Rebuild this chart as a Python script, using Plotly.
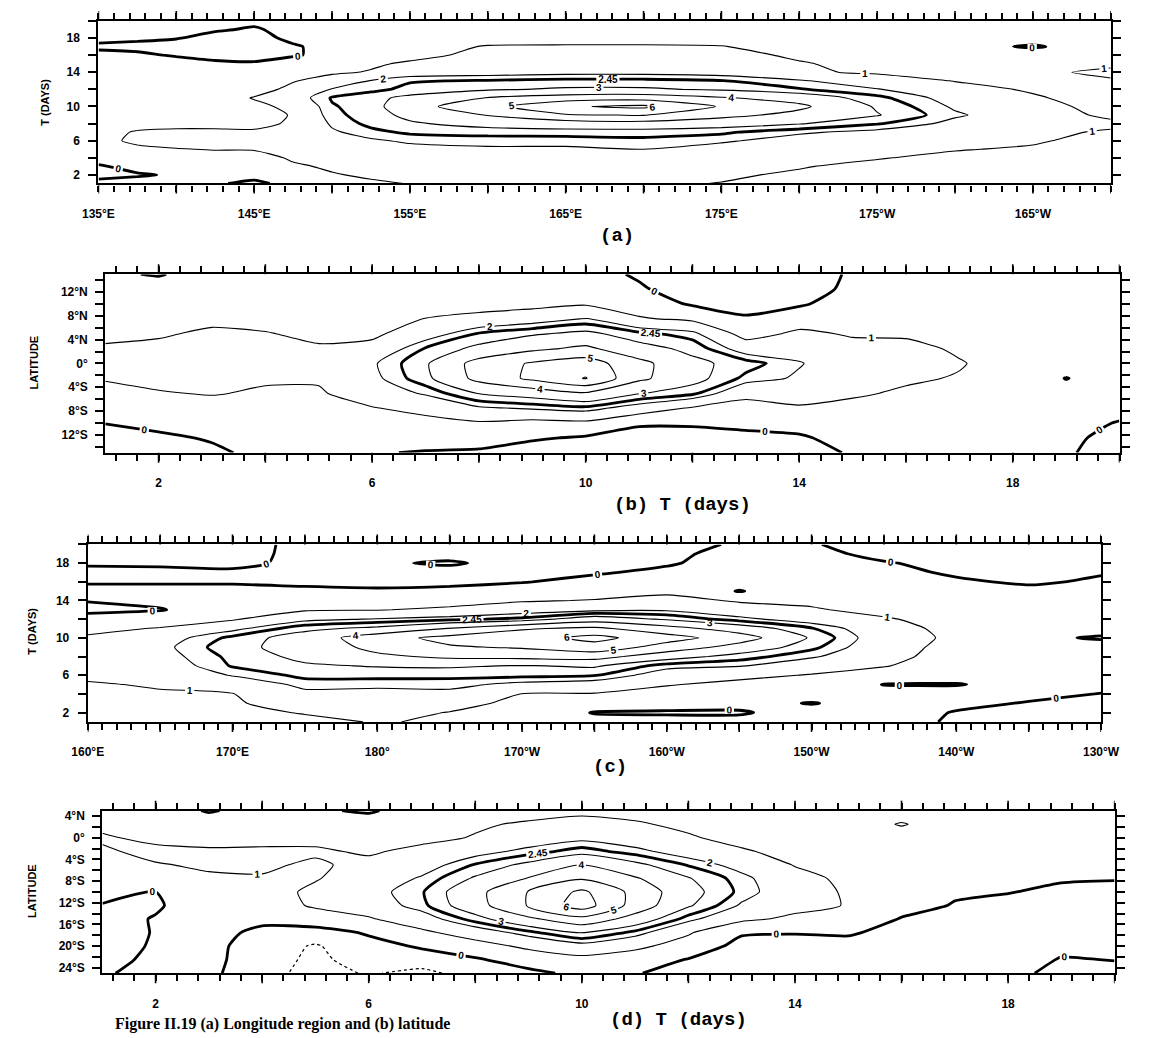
import plotly.graph_objects as go

W, H = 1155, 1038

# ---------------- (a) T (days) against longitude ----------------
LON_A = [135, 137.5, 140, 142.5, 145, 147.5, 150, 152.5, 155, 160, 165, 170, 175, 180, 185, 190, 195, 200]
T_A = list(range(1, 21))
# one row per period T = 1 .. 20 days
Z_A = [
    [0.3, 0.4, 0.3, 0.1, -0.2, 0.3, 0.8, 0.9, 1.02, 1.1, 1.15, 1.1, 0.98, 0.8, 0.6, 0.5, 0.5, 0.4],
    [-0.3, -0.1, 0.1, 0.3, 0.3, 0.6, 0.95, 1.1, 1.2, 1.25, 1.3, 1.3, 1.1, 0.9, 0.7, 0.5, 0.5, 0.4],
    [-0.1, 0.3, 0.4, 0.5, 0.6, 0.9, 1.1, 1.2, 1.3, 1.4, 1.4, 1.4, 1.2, 1.05, 0.8, 0.6, 0.5, 0.4],
    [0.4, 0.5, 0.6, 0.6, 0.7, 1.1, 1.3, 1.4, 1.5, 1.6, 1.6, 1.6, 1.4, 1.2, 1.05, 0.8, 0.7, 0.5],
    [0.5, 0.8, 0.95, 1.05, 1.05, 1.2, 1.5, 1.6, 1.8, 1.9, 1.9, 2.0, 1.7, 1.4, 1.2, 1.05, 0.9, 0.6],
    [0.7, 1.2, 1.4, 1.5, 1.5, 1.5, 1.7, 1.9, 2.1, 2.2, 2.2, 2.3, 2.1, 1.7, 1.5, 1.2, 1.1, 0.7],
    [0.6, 1.1, 1.2, 1.2, 1.1, 1.2, 1.9, 2.3, 2.55, 2.65, 2.7, 2.7, 2.55, 2.1, 1.8, 1.4, 1.2, 0.9],
    [0.5, 0.6, 0.7, 0.7, 0.8, 1.1, 2.1, 2.6, 2.9, 3.3, 3.5, 3.6, 3.4, 3.05, 2.5, 1.8, 1.4, 1.2],
    [0.5, 0.5, 0.6, 0.6, 0.7, 1.05, 2.3, 2.7, 3.2, 4.05, 4.9, 5.05, 4.3, 3.7, 3.05, 2.1, 1.5, 0.8],
    [0.4, 0.5, 0.5, 0.6, 0.8, 1.2, 2.4, 2.7, 3.6, 4.7, 5.9, 6.2, 4.9, 4.2, 2.9, 1.9, 1.3, 0.7],
    [0.4, 0.4, 0.5, 0.6, 1.05, 1.6, 2.5, 2.8, 3.2, 4.05, 4.5, 4.6, 4.1, 3.6, 2.6, 1.7, 1.1, 0.6],
    [0.4, 0.4, 0.5, 0.5, 0.7, 1.2, 2.05, 2.3, 2.6, 2.9, 3.1, 3.1, 2.9, 2.5, 2.05, 1.3, 0.9, 0.5],
    [0.4, 0.4, 0.4, 0.5, 0.6, 0.95, 1.3, 2.05, 2.4, 2.5, 2.6, 2.6, 2.47, 2.1, 1.4, 0.97, 0.8, 0.9],
    [0.5, 0.5, 0.5, 0.4, 0.4, 0.7, 0.9, 1.05, 1.6, 1.7, 1.8, 1.8, 1.7, 1.1, 0.9, 0.8, 0.8, 1.2],
    [0.4, 0.4, 0.5, 0.3, 0.2, 0.5, 0.7, 0.9, 1.1, 1.4, 1.5, 1.5, 1.4, 1.05, 0.8, 0.7, 0.7, 0.8],
    [0.3, 0.2, -0.1, -0.5, -0.6, -0.1, 0.3, 0.6, 0.8, 1.2, 1.3, 1.3, 1.2, 0.9, 0.7, 0.5, 0.6, 0.7],
    [-0.2, -0.3, -0.4, -0.5, -0.4, -0.1, 0.3, 0.5, 0.7, 1.05, 1.08, 1.08, 1.03, 0.7, 0.5, 0.3, -0.1, 0.5],
    [0.3, 0.2, 0.05, -0.3, -0.3, 0.2, 0.4, 0.5, 0.6, 0.7, 0.7, 0.7, 0.7, 0.6, 0.5, 0.4, 0.4, 0.5],
    [0.4, 0.4, 0.3, 0.1, -0.1, 0.3, 0.5, 0.5, 0.5, 0.5, 0.5, 0.5, 0.5, 0.5, 0.5, 0.5, 0.5, 0.5],
    [0.5, 0.5, 0.4, 0.3, 0.2, 0.4, 0.5, 0.5, 0.5, 0.5, 0.5, 0.5, 0.5, 0.5, 0.5, 0.5, 0.5, 0.5],
]

# ---------------- (b) latitude against T (days) ----------------
T_B = list(range(1, 21))
LAT_B = [-15, -12.5, -10, -7.5, -5, -2.5, 0, 2.5, 5, 7.5, 10, 12.5, 15]
# one list per period T (south -> north)
Z_B = [
    [-0.5, -0.3, 0.02, 0.5, 0.8, 1.05, 1.2, 1.1, 0.8, 0.5, 0.3, 0.2, 0.1],
    [-0.4, -0.2, 0.3, 0.7, 0.95, 1.2, 1.3, 1.2, 0.9, 0.6, 0.4, 0.3, -0.05],
    [-0.2, 0.1, 0.4, 0.7, 1.05, 1.2, 1.3, 1.3, 1.15, 0.8, 0.5, 0.4, 0.3],
    [0.3, 0.4, 0.5, 0.7, 0.9, 1.1, 1.2, 1.2, 1.05, 0.7, 0.5, 0.4, 0.3],
    [0.4, 0.5, 0.6, 0.7, 0.9, 1.1, 1.2, 1.1, 0.8, 0.6, 0.5, 0.5, 0.4],
    [0.05, 0.4, 0.7, 0.95, 1.5, 1.8, 1.9, 1.3, 0.8, 0.7, 0.5, 0.5, 0.4],
    [-0.05, 0.3, 0.7, 1.3, 2.1, 2.8, 2.9, 2.5, 1.6, 1.02, 0.6, 0.5, 0.4],
    [-0.1, 0.3, 0.9, 1.9, 3.05, 4.3, 4.4, 3.2, 2.5, 1.3, 0.6, 0.5, 0.4],
    [-0.4, 0.1, 0.7, 2.1, 3.4, 5.2, 5.1, 3.8, 2.9, 1.6, 0.7, 0.5, 0.4],
    [-0.6, -0.1, 0.8, 2.3, 3.9, 6.05, 5.5, 4.2, 3.2, 2.05, 0.9, 0.5, 0.3],
    [-0.8, -0.3, 0.1, 1.6, 3.05, 4.2, 4.3, 3.3, 2.6, 1.1, 0.5, 0.1, -0.1],
    [-0.6, -0.3, 0.1, 0.9, 2.6, 3.3, 3.2, 2.8, 2.2, 0.8, -0.1, -0.4, -0.5],
    [-0.5, -0.2, 0.2, 0.6, 1.3, 2.3, 2.7, 1.6, 0.6, 0.1, -0.3, -0.5, -0.5],
    [-0.4, -0.1, 0.3, 0.9, 1.4, 1.9, 2.05, 1.7, 1.2, 0.5, -0.1, -0.4, -0.4],
    [0.1, 0.3, 0.5, 0.8, 1.1, 1.4, 1.5, 1.3, 0.9, 0.6, 0.4, 0.2, 0.1],
    [0.3, 0.4, 0.5, 0.6, 0.9, 1.1, 1.3, 1.2, 0.9, 0.6, 0.4, 0.3, 0.2],
    [0.3, 0.4, 0.5, 0.5, 0.7, 0.95, 1.05, 0.9, 0.7, 0.5, 0.4, 0.3, 0.3],
    [0.2, 0.3, 0.4, 0.5, 0.6, 0.7, 0.7, 0.6, 0.5, 0.4, 0.4, 0.3, 0.3],
    [0.1, 0.2, 0.3, 0.4, 0.4, -0.03, 0.5, 0.5, 0.4, 0.4, 0.3, 0.3, 0.3],
    [-0.4, -0.3, -0.05, 0.3, 0.4, 0.5, 0.5, 0.5, 0.4, 0.4, 0.3, 0.3, 0.3],
]

# ---------------- (c) T (days) against longitude, 160E - 130W ----------------
LON_C = [160, 165, 170, 175, 180, 185, 190, 195, 200, 205, 210, 215, 220, 225, 230]
T_C = list(range(1, 21))
# one list per longitude (T = 1 .. 20)
Z_C = [
    [0.5, 0.6, 0.6, 0.7, 0.9, 1.2, 1.3, 1.4, 1.3, 1.1, 0.8, 0.5, -0.3, 0.05, 0.3, -0.1, -0.4, 0.2, 0.3, 0.3],
    [0.6, 0.7, 0.8, 0.9, 1.1, 1.3, 1.5, 1.7, 1.8, 1.6, 1.05, 0.6, -0.05, 0.2, 0.3, -0.1, -0.3, 0.2, 0.3, 0.3],
    [0.7, 0.8, 0.9, 0.97, 1.4, 2.05, 2.5, 2.6, 2.8, 2.6, 1.8, 0.9, 0.5, 0.3, 0.3, -0.1, -0.2, 0.3, 0.4, 0.3],
    [0.8, 1.05, 1.4, 1.8, 2.2, 2.6, 2.9, 3.2, 3.3, 3.4, 2.8, 1.8, 0.9, 0.3, 0.2, -0.2, -0.4, -0.3, -0.3, -0.2],
    [1.05, 1.2, 1.4, 1.7, 2.2, 2.6, 3.05, 3.8, 4.3, 4.6, 3.2, 2.05, 0.95, 0.5, 0.1, -0.2, -0.3, -0.1, -0.3, -0.3],
    [0.9, 0.98, 1.2, 1.8, 2.2, 2.6, 3.1, 4.2, 4.9, 5.3, 4.05, 2.3, 1.2, 0.6, 0.1, -0.1, -0.3, 0.1, -0.3, -0.4],
    [0.6, 0.7, 0.85, 0.98, 1.8, 2.6, 2.95, 4.3, 5.1, 5.6, 4.9, 2.6, 1.6, 0.9, 0.5, -0.05, -0.2, -0.3, -0.3, -0.4],
    [0.3, -0.05, 0.6, 0.95, 1.6, 2.5, 3.1, 4.4, 5.6, 6.3, 5.2, 3.5, 1.8, 1.05, 0.6, 0.3, -0.1, -0.3, -0.3, -0.4],
    [0.3, -0.1, 0.4, 0.7, 1.05, 1.6, 2.2, 3.4, 4.6, 5.4, 4.4, 2.9, 1.9, 1.3, 0.8, 0.4, 0.2, -0.1, -0.2, -0.3],
    [0.3, -0.1, 0.3, 0.6, 0.8, 1.2, 2.05, 2.7, 3.6, 4.5, 3.5, 2.2, 1.4, 0.9, -0.05, 0.4, 0.4, 0.4, 0.3, 0.1],
    [0.4, 0.4, -0.05, 0.5, 0.8, 0.95, 1.4, 2.1, 2.6, 2.9, 2.5, 1.6, 1.1, 0.8, 0.6, 0.5, 0.4, 0.3, 0.2, 0.05],
    [0.3, 0.4, 0.4, 0.5, -0.03, 0.6, 1.05, 1.3, 1.4, 1.5, 1.4, 1.1, 0.7, 0.5, 0.4, 0.3, 0.2, 0.05, -0.2, -0.3],
    [-0.1, -0.05, 0.2, 0.4, -0.05, 0.4, 0.5, 0.6, 0.7, 0.8, 0.7, 0.6, 0.5, 0.4, 0.3, 0.1, -0.1, -0.2, -0.3, -0.3],
    [-0.3, -0.3, -0.05, 0.2, 0.3, 0.4, 0.4, 0.4, 0.3, 0.1, 0.3, 0.4, 0.4, 0.3, 0.2, -0.1, -0.2, -0.2, -0.2, -0.2],
    [-0.4, -0.3, -0.2, -0.02, 0.2, 0.3, 0.3, 0.3, 0.2, -0.05, 0.2, 0.3, 0.3, 0.3, 0.2, 0.1, -0.05, -0.2, -0.2, -0.1],
]

# ---------------- (d) latitude (25S - 5N) against T (days) ----------------
T_D = list(range(1, 21))
LAT_D = [-25, -22.5, -20, -17.5, -15, -12.5, -10, -7.5, -5, -2.5, 0, 2.5, 5]
# one list per period T (south -> north)
Z_D = [
    [-0.1, -0.3, -0.4, -0.4, -0.3, -0.05, 0.3, 0.6, 0.8, 0.9, 1.1, 0.8, 0.6],
    [0.3, 0.2, 0.1, 0.05, 0.05, -0.1, -0.02, 0.6, 0.95, 1.2, 0.8, 0.5, 0.3],
    [0.2, 0.3, 0.3, 0.3, 0.4, 0.5, 0.7, 0.9, 1.1, 1.15, 0.6, 0.3, -0.05],
    [-0.6, -0.6, -0.5, -0.2, 0.2, 0.6, 0.7, 0.95, 1.1, 1.15, 0.7, 0.4, 0.2],
    [-1.4, -1.2, -1.1, -0.4, 0.6, 1.1, 1.15, 0.95, 0.9, 1.1, 0.8, 0.3, 0.1],
    [-0.9, -0.6, -0.3, 0.1, 0.9, 1.5, 1.7, 1.4, 1.2, 0.9, 0.6, 0.4, -0.1],
    [-1.3, -0.4, 0.1, 0.8, 1.6, 2.3, 2.4, 2.1, 1.6, 1.2, 0.8, 0.6, 0.4],
    [-0.5, -0.1, 0.6, 1.5, 2.7, 3.6, 3.7, 3.1, 2.5, 1.7, 1.05, 0.9, 0.6],
    [-0.2, 0.4, 1.2, 2.3, 3.8, 5.1, 5.05, 4.05, 3.2, 2.2, 1.5, 1.1, 0.7],
    [0.2, 0.7, 1.7, 3.05, 4.7, 6.5, 6.2, 4.9, 4.05, 2.7, 1.8, 1.3, 0.8],
    [0.05, 0.5, 1.2, 2.3, 3.6, 4.6, 4.7, 4.1, 3.2, 2.2, 1.5, 1.1, 0.7],
    [-0.3, -0.05, 0.6, 1.1, 2.2, 3.1, 3.3, 3.05, 2.4, 1.6, 1.1, 0.8, 0.5],
    [-0.4, -0.2, -0.3, 0.1, 1.2, 1.9, 2.3, 2.2, 1.7, 1.1, 0.7, 0.5, 0.4],
    [-0.5, -0.5, -0.4, 0.05, 0.8, 1.3, 1.4, 1.3, 0.95, 0.7, 0.5, 0.4, 0.3],
    [-0.5, -0.5, -0.3, 0.1, 0.6, 0.95, 0.9, 0.8, 0.6, 0.5, 0.4, 0.3, 0.3],
    [-0.5, -0.6, -0.5, -0.3, -0.05, 0.3, 0.5, 0.5, 0.5, 0.4, 0.4, 1.1, 0.3],
    [-0.4, -0.5, -0.5, -0.4, -0.2, -0.05, 0.1, 0.3, 0.3, 0.3, 0.3, 0.3, 0.3],
    [-0.2, -0.4, -0.4, -0.4, -0.3, -0.15, 0.02, 0.2, 0.3, 0.3, 0.3, 0.3, 0.3],
    [0.2, 0.05, -0.2, -0.3, -0.3, -0.25, -0.1, 0.05, 0.2, 0.3, 0.3, 0.3, 0.3],
    [0.2, -0.02, -0.2, -0.3, -0.3, -0.2, -0.1, 0.02, 0.2, 0.3, 0.3, 0.3, 0.3],
]

# tick labels
LON_TICKS_A = [135, 145, 155, 165, 175, 185, 195]
LON_TEXT_A = ["135°E", "145°E", "155°E", "165°E", "175°E", "175°W", "165°W"]
LON_TICKS_C = [160, 170, 180, 190, 200, 210, 220, 230]
LON_TEXT_C = ["160°E", "170°E", "180°", "170°W", "160°W", "150°W", "140°W", "130°W"]
T_TICKS = [2, 6, 10, 14, 18]
LAT_TICKS_B = [12, 8, 4, 0, -4, -8, -12]
LAT_TEXT_B = ["12°N", "8°N", "4°N", "0°", "4°S", "8°S", "12°S"]
LAT_TICKS_D = [4, 0, -4, -8, -12, -16, -20, -24]
LAT_TEXT_D = ["4°N", "0°", "4°S", "8°S", "12°S", "16°S", "20°S", "24°S"]

BLACK = [[0, "#000"], [1, "#000"]]
LABEL_FONT = dict(family="Liberation Sans", size=10, color="#000", weight="bold")
TICK_FONT = dict(family="Liberation Sans", size=12, color="#000", weight="bold")

fig = go.Figure()


def add_contours(n, x, y, z, transpose, dotted=False):
    ax = "" if n == 1 else str(n)
    common = dict(x=x, y=y, z=z, transpose=transpose, xaxis="x" + ax, yaxis="y" + ax,
                  colorscale=BLACK, showscale=False, hoverinfo="skip")
    # thin contours 1..6
    fig.add_trace(go.Contour(
        **common,
        contours=dict(coloring="lines", start=1, end=6, size=1, showlabels=True,
                      labelfont=LABEL_FONT, labelformat=".0f"),
        line=dict(width=1.1, smoothing=0.6),
    ))
    # heavy zero line and heavy 2.45 line
    for lev in (0, 2.45):
        fig.add_trace(go.Contour(
            **common,
            contours=dict(coloring="lines", start=lev, end=lev, size=1, showlabels=True,
                          labelfont=LABEL_FONT, labelformat=".3~g"),
            line=dict(width=2.8, smoothing=0.6),
        ))
    if dotted:
        fig.add_trace(go.Contour(
            **common,
            contours=dict(coloring="lines", start=-1, end=-1, size=1, showlabels=False),
            line=dict(width=1.2, dash="dot", smoothing=0.6),
        ))


add_contours(1, LON_A, T_A, Z_A, False)
add_contours(2, T_B, LAT_B, Z_B, True)
add_contours(3, LON_C, T_C, Z_C, True)
add_contours(4, T_D, LAT_D, Z_D, True, dotted=True)


def dom_x(a, b):
    return [a / W, b / W]


def dom_y(top, bottom):
    return [1 - bottom / H, 1 - top / H]


def steps(lo, hi, step):
    n = int(round((hi - lo) / step))
    return [round(lo + i * step, 3) for i in range(n + 1)]


def axis(anchor, domain, rng, tickvals, ticktext, standoff=8, ticklen=8):
    return dict(
        anchor=anchor, domain=domain, range=rng, tickmode="array",
        tickvals=tickvals, ticktext=ticktext,
        ticks="outside", ticklen=ticklen, tickwidth=1.5, tickcolor="#000",
        showline=True, linewidth=2.2, linecolor="#000", mirror="ticks",
        showgrid=False, zeroline=False, tickfont=TICK_FONT, ticklabelstandoff=standoff,
        fixedrange=True,
    )


def with_blanks(ticks, labelled, texts):
    lab = dict(zip(labelled, texts))
    return ticks, [lab.get(v, "") for v in ticks]


# x axes carry every tick (short); the longer major ticks are added as strokes below
xa_v, xa_t = with_blanks(steps(135, 200, 1), LON_TICKS_A, LON_TEXT_A)
xb_v, xb_t = with_blanks(steps(1.2, 20, 0.4), T_TICKS, [str(v) for v in T_TICKS])
xc_v, xc_t = with_blanks(steps(160, 230, 1), LON_TICKS_C, LON_TEXT_C)
ya_v, ya_t = with_blanks(steps(2, 20, 2), T_TICKS, [str(v) for v in T_TICKS])
yb_v, yb_t = with_blanks(steps(-14, 14, 2), LAT_TICKS_B, LAT_TEXT_B)
yd_v, yd_t = with_blanks(steps(-24, 4, 2), LAT_TICKS_D, LAT_TEXT_D)

fig.update_layout(
    width=W, height=H, margin=dict(l=0, r=0, t=0, b=0),
    paper_bgcolor="white", plot_bgcolor="white", showlegend=False,
    xaxis=axis("y", dom_x(85, 1129), [135, 200], xa_v, xa_t, standoff=12, ticklen=6),
    yaxis=axis("x", dom_y(20, 183), [1, 20], ya_v, ya_t, standoff=6),
    xaxis2=axis("y2", dom_x(92, 1138), [1, 20], xb_v, xb_t, standoff=12, ticklen=6),
    yaxis2=axis("x2", dom_y(274, 453), [-15, 15], yb_v, yb_t, standoff=5),
    xaxis3=axis("y3", dom_x(74, 1119), [160, 230], xc_v, xc_t, standoff=12, ticklen=6),
    yaxis3=axis("x3", dom_y(545, 723), [1, 20], ya_v, ya_t, standoff=6),
    xaxis4=axis("y4", dom_x(89, 1133), [1, 20], xb_v, xb_t, standoff=12, ticklen=6),
    yaxis4=axis("x4", dom_y(812, 975), [-25, 5], yd_v, yd_t, standoff=5),
)

# longer major ticks, top and bottom of each panel
MAJOR = [("x", "y", 163, steps(135, 200, 5)),
         ("x2", "y2", 179, steps(2, 20, 2)),
         ("x3", "y3", 178, steps(160, 230, 5)),
         ("x4", "y4", 163, steps(2, 20, 2))]
for xr, yr, hpx, vals in MAJOR:
    d = 10.0 / hpx
    for v in vals:
        for y0, y1 in ((0, -d), (1, 1 + d)):
            fig.add_shape(type="line", xref=xr, yref=yr + " domain", x0=v, x1=v, y0=y0, y1=y1,
                          line=dict(color="#000", width=1.6))

SIDE_FONT = dict(family="Liberation Sans", size=11, color="#000", weight="bold")
TITLE_FONT = dict(family="Liberation Mono", size=19, color="#000", weight="bold")


def note(px, py, text, font, angle=0, **kw):
    fig.add_annotation(x=px / W, y=1 - py / H, xref="paper", yref="paper", text=text,
                       showarrow=False, font=font, textangle=angle,
                       xanchor=kw.get("xanchor", "center"), yanchor=kw.get("yanchor", "middle"))


note(30, 102, "T (DAYS)", SIDE_FONT, -90)
note(18, 362, "LATITUDE", SIDE_FONT, -90)
note(17, 632, "T (DAYS)", SIDE_FONT, -90)
note(17, 892, "LATITUDE", SIDE_FONT, -90)

note(620, 236, "(a)", TITLE_FONT)
note(687, 505, "(b) T (days)", TITLE_FONT)
note(613, 768, "(c)", TITLE_FONT)

# figure caption along the bottom edge
note(100, 1037, "Figure II.19 (a) Longitude region and (b) latitude",
     dict(family="Liberation Serif", size=16, color="#000", weight="bold"),
     xanchor="left", yanchor="bottom")
note(683, 1022, "(d) T (days)", TITLE_FONT)

fig.write_html("out.html")
